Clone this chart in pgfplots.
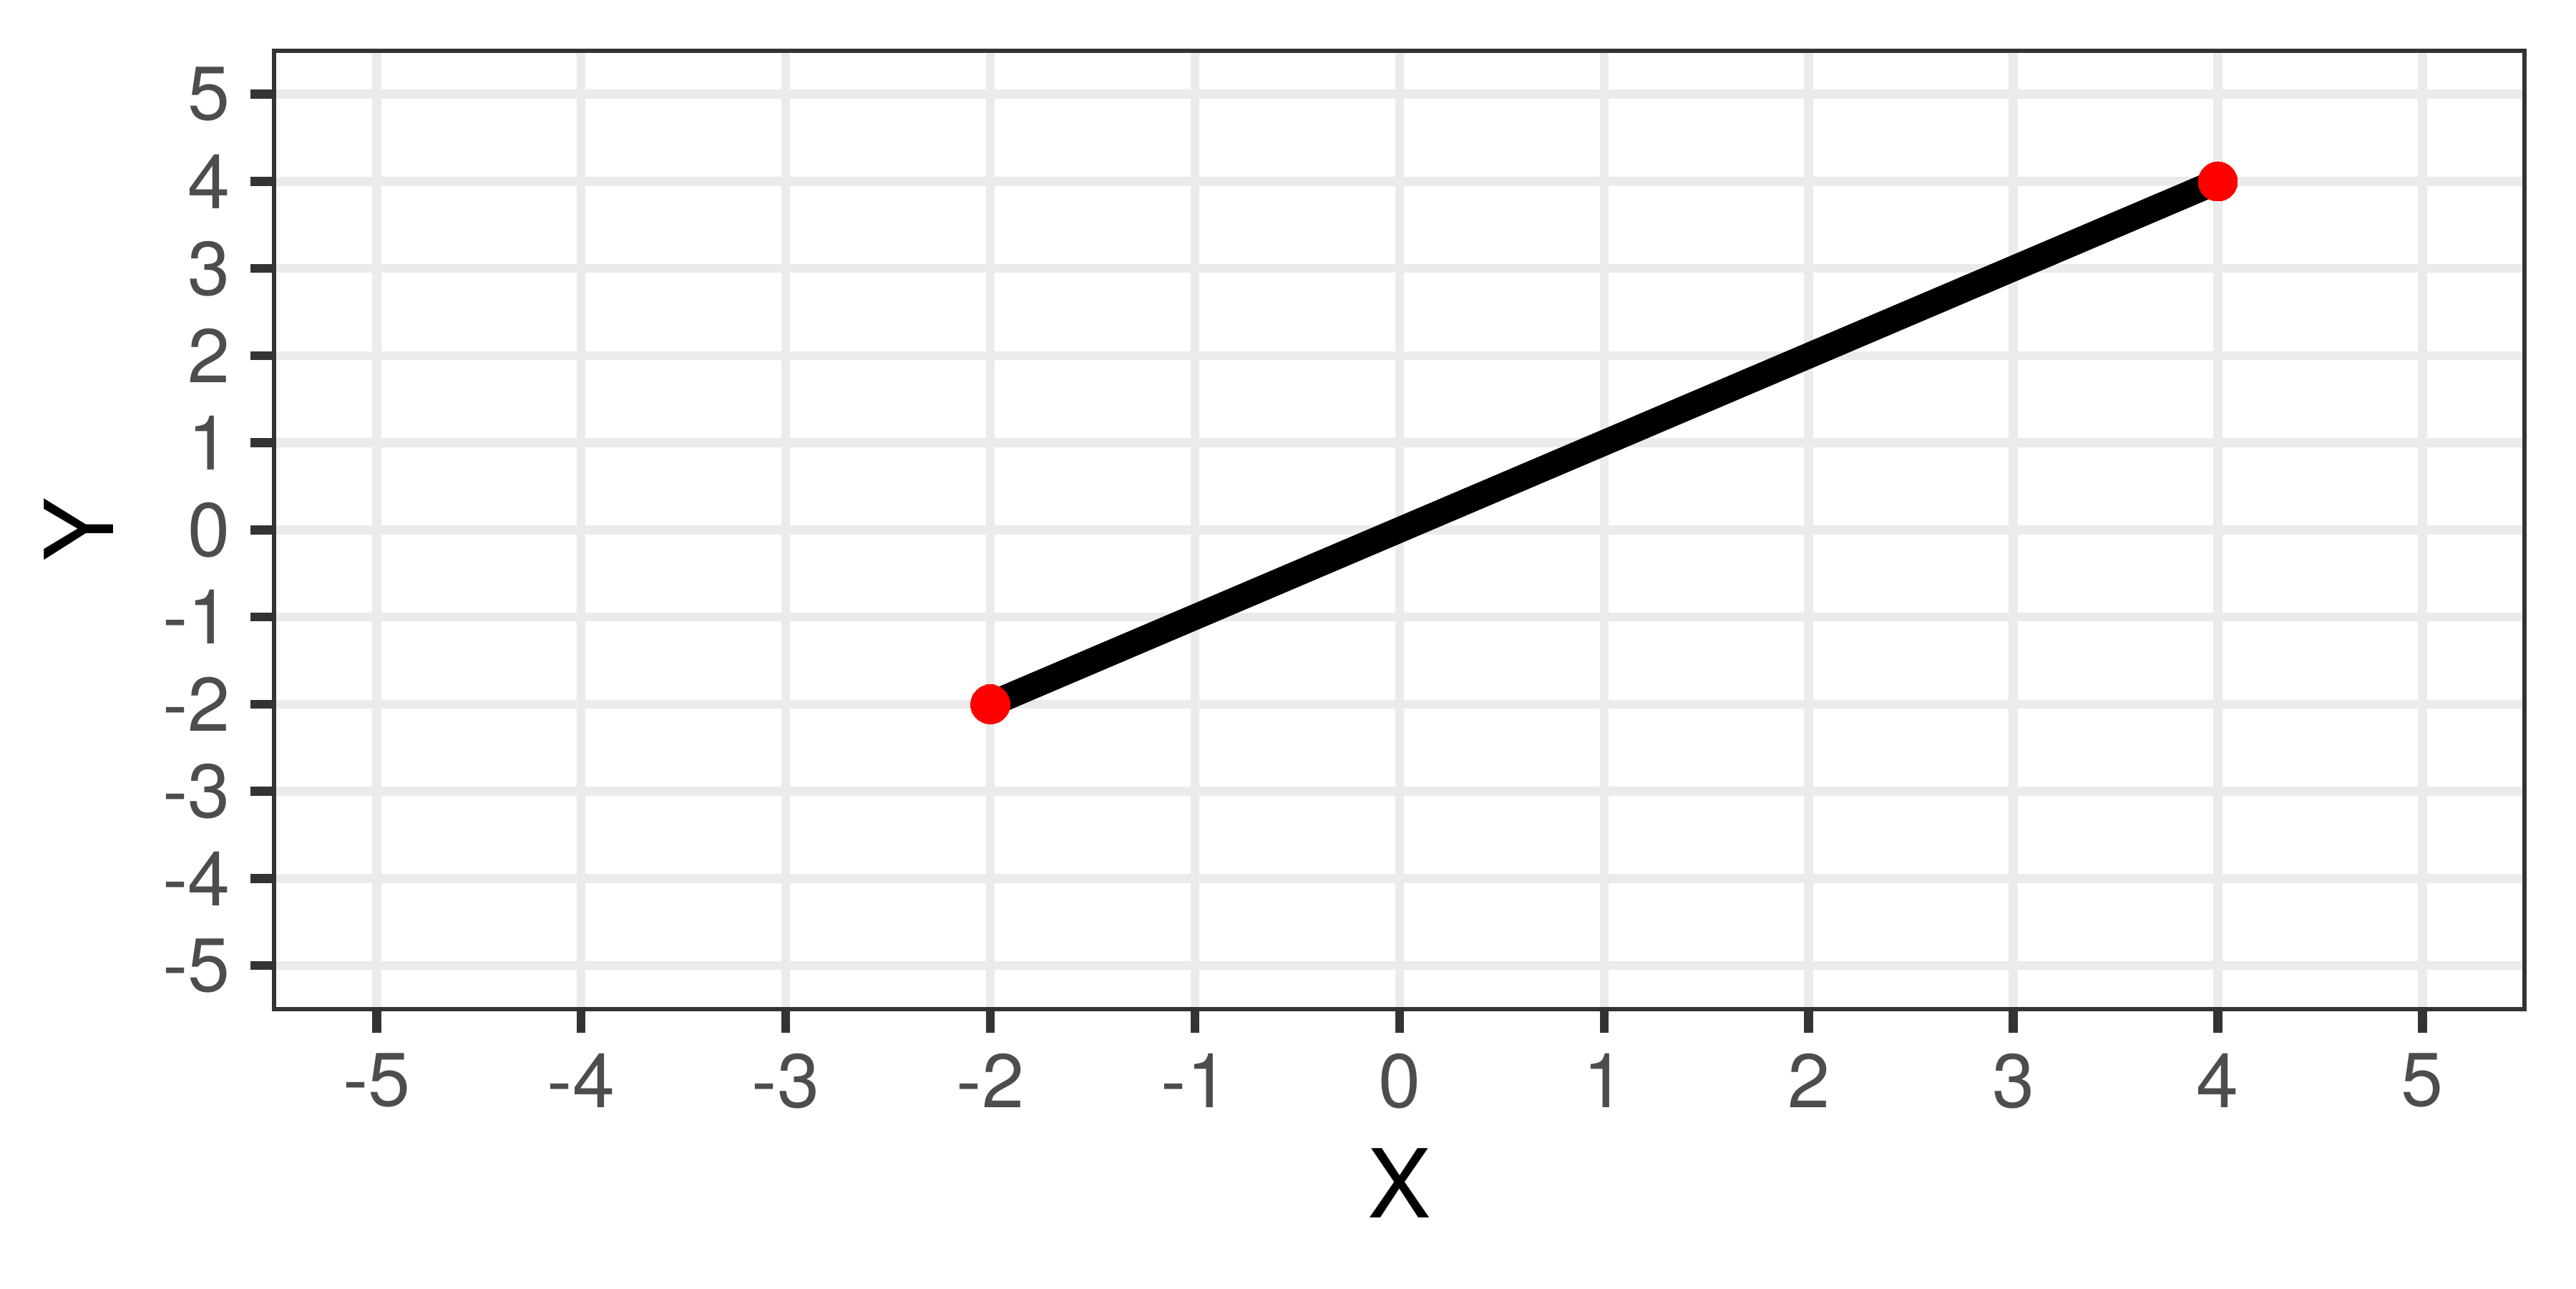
\documentclass[border=0pt]{standalone}
\usepackage{fontspec}
\setmainfont{TeX Gyre Heros}
\usepackage{pgfplots}
\pgfplotsset{compat=1.18}
\definecolor{gridgrey}{HTML}{EBEBEB}
\definecolor{grey20}{HTML}{333333}
\definecolor{grey30}{HTML}{4D4D4D}
\begin{document}
\begin{tikzpicture}
\begin{axis}[
  scale only axis,
  width=377.4bp, height=160.7bp,
  xmin=-5.5, xmax=5.5, ymin=-5.5, ymax=5.5,
  xtick={-5,...,5}, ytick={-5,...,5},
  xticklabels={-5,-4,-3,-2,-1,0,1,2,3,4,5},
  yticklabels={-5,-4,-3,-2,-1,0,1,2,3,4,5},
  tick align=outside,
  xtick pos=bottom, ytick pos=left,
  major tick length=4bp,
  tick style={line width=1.5bp, color=grey20},
  axis line style={line width=0.75bp, color=grey20},
  grid=major,
  major grid style={line width=1.5bp, color=gridgrey},
  xticklabel style={font=\fontsize{12.8}{15}\selectfont, text=grey30, inner sep=0pt, anchor=north, yshift=-3.2bp},
  yticklabel style={font=\fontsize{12.8}{15}\selectfont, text=grey30, inner sep=0pt, anchor=east, xshift=-3.2bp},
  xlabel={X}, ylabel={Y},
  xlabel style={font=\fontsize{16}{19}\selectfont, at={(axis description cs:0.5,-0.1817)}, anchor=center, inner sep=0pt},
  ylabel style={font=\fontsize{16}{19}\selectfont, at={(axis description cs:-0.0869,0.5)}, anchor=center, inner sep=0pt},
  clip=false,
]
\addplot[black, line width=4.3bp, line cap=butt] coordinates {(-2,-2) (4,4)};
\addplot[red, only marks, mark=*, mark size=3.3bp, mark options={fill=red, draw=red, line width=0pt}] coordinates {(-2,-2) (4,4)};
\end{axis}
\pgfresetboundingbox
\path[use as bounding box] ([xshift=-46bp,yshift=-46.8bp]current axis.south west) rectangle ([xshift=8.6bp,yshift=8.5bp]current axis.north east);
\end{tikzpicture}
\end{document}
